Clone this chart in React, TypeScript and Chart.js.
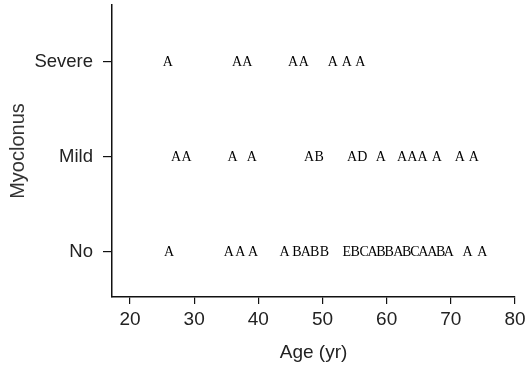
import React, { useEffect, useRef } from "react";
import { Chart, registerables } from "chart.js";

Chart.register(...registerables);

const severityLevels = ["No", "Mild", "Severe"];
const xTicks = [20, 30, 40, 50, 60, 70, 80];

const severeAges = [25.9, 36.7, 38.3, 45.4, 47.1, 51.6, 53.8, 55.9];
const severeLetters = ["A", "A", "A", "A", "A", "A", "A", "A"];

const mildAges = [27.2, 28.8, 36.0, 39.0, 47.9, 49.5, 54.6, 56.2, 59.1, 62.4, 64.0, 65.6, 67.8, 71.4, 73.6];
const mildLetters = ["A", "A", "A", "A", "A", "B", "A", "D", "A", "A", "A", "A", "A", "A", "A"];

const noAges = [26.1, 35.4, 37.2, 39.2, 44.1, 46.0, 47.4, 48.8, 50.3, 53.8, 55.1, 56.5, 57.8, 59.1, 60.4, 61.8, 63.1, 64.4, 65.7, 67.1, 68.4, 69.7, 72.6, 74.9];
const noLetters = ["A", "A", "A", "A", "A", "B", "A", "B", "B", "E", "B", "C", "A", "B", "B", "A", "B", "C", "A", "A", "B", "A", "A", "A"];

const rows = [
  { level: 0, ages: noAges, letters: noLetters },
  { level: 1, ages: mildAges, letters: mildLetters },
  { level: 2, ages: severeAges, letters: severeLetters },
];

const letterPlugin = {
  id: "letterMarks",
  afterDatasetsDraw(chart: any) {
    const ctx = chart.ctx;
    ctx.save();
    ctx.font = "14px 'Liberation Serif', 'Times New Roman', serif";
    ctx.fillStyle = "#000";
    ctx.textAlign = "center";
    ctx.textBaseline = "middle";
    chart.data.datasets.forEach((ds: any, di: number) => {
      const meta = chart.getDatasetMeta(di);
      meta.data.forEach((el: any, i: number) => {
        ctx.fillText(ds.letters[i], el.x, el.y);
      });
    });
    ctx.restore();
  },
};

export default function App() {
  const ref = useRef<HTMLCanvasElement | null>(null);
  useEffect(() => {
    document.body.style.margin = "0";
    const sans = "'Liberation Sans', Arial, sans-serif";
    const chart = new Chart(ref.current as HTMLCanvasElement, {
      type: "scatter",
      data: {
        datasets: rows.map((r) => ({
          label: severityLevels[r.level],
          data: r.ages.map((a) => ({ x: a, y: r.level })),
          letters: r.letters,
          pointRadius: 0,
          pointHoverRadius: 0,
        })) as any,
      },
      options: {
        animation: false,
        responsive: false,
        maintainAspectRatio: false,
        events: [],
        layout: { padding: { top: 5, right: 11, left: 0, bottom: 0 } },
        plugins: { legend: { display: false }, tooltip: { enabled: false } },
        scales: {
          x: {
            type: "linear",
            min: 17.2,
            max: 80,
            afterBuildTicks: (s: any) => {
              s.ticks = xTicks.map((v) => ({ value: v }));
            },
            afterFit: (s: any) => {
              s.height = 71;
              s.paddingLeft = 0;
              s.paddingRight = 0;
            },
            grid: { drawOnChartArea: false, drawTicks: true, tickLength: 7, color: "#111", lineWidth: 1.2 },
            border: { display: true, color: "#111", width: 1.5 },
            ticks: { color: "#222", font: { family: sans, size: 19 }, padding: 4, maxRotation: 0, autoSkip: false },
            title: { display: true, text: "Age (yr)", color: "#222", font: { family: sans, size: 19 }, padding: { top: 0, bottom: 4 } },
          },
          y: {
            type: "linear",
            min: -0.474,
            max: 2.6,
            afterBuildTicks: (s: any) => {
              s.ticks = severityLevels.map((_, i) => ({ value: i }));
            },
            afterFit: (s: any) => {
              s.width = 112;
              s.paddingTop = 0;
              s.paddingBottom = 0;
            },
            grid: { drawOnChartArea: false, drawTicks: true, tickLength: 9, color: "#111", lineWidth: 1.2 },
            border: { display: true, color: "#111", width: 1.5 },
            ticks: {
              color: "#222",
              font: { family: sans, size: 18.5 },
              padding: 10,
              autoSkip: false,
              callback: (v: any) => severityLevels[Number(v)] ?? "",
            },
            title: { display: true, text: "Myoclonus", color: "#333", font: { family: sans, size: 20 }, padding: { top: 6, bottom: 0 } },
          },
        },
      },
      plugins: [letterPlugin],
    });
    return () => chart.destroy();
  }, []);
  return (
    <div style={{ position: "absolute", left: 0, top: 0, width: 526, height: 368, background: "#fff" }}>
      <canvas ref={ref} width={526} height={368} style={{ width: 526, height: 368 }} />
    </div>
  );
}
